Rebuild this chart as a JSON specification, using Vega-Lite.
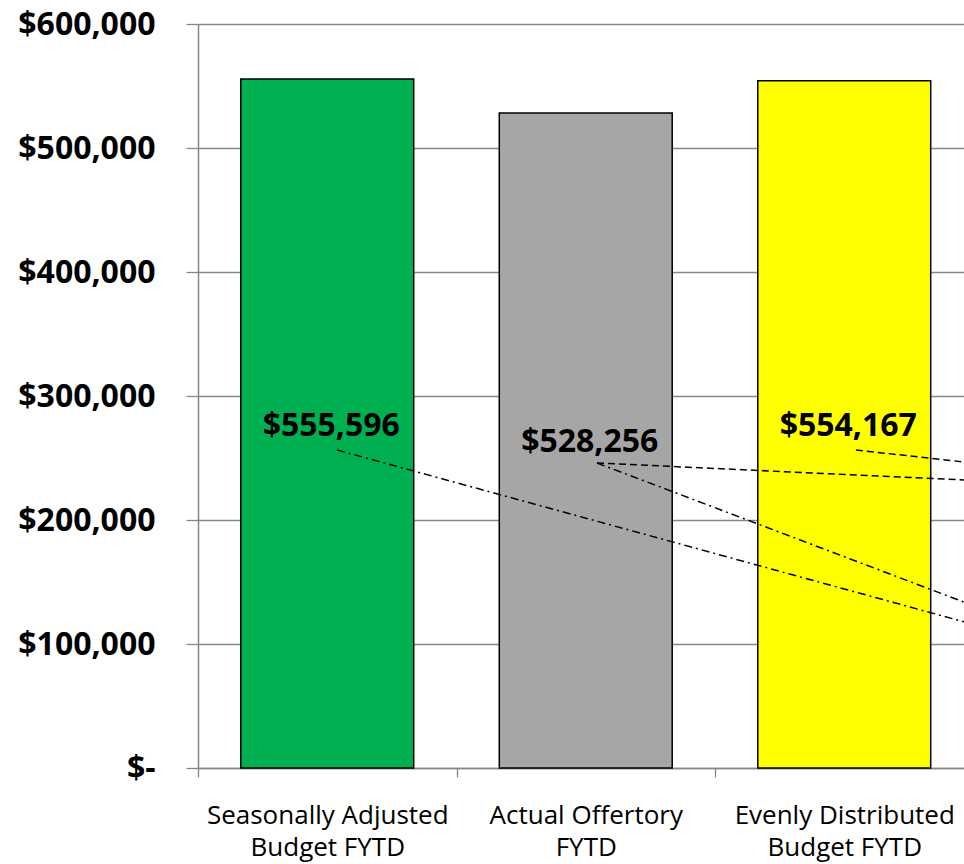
{
  "$schema": "https://vega.github.io/schema/vega-lite/v6.json",
  "autosize": {"type": "none"},
  "width": 766,
  "height": 744,
  "padding": {"left": 198, "top": 24, "right": 0, "bottom": 96},
  "background": "white",
  "config": {"view": {"stroke": null}, "font": "Open Sans"},
  "datasets": {
    "bars": [
      {"category": "Seasonally Adjusted Budget FYTD", "value": 555596, "label": "$555,596"},
      {"category": "Actual Offertory FYTD", "value": 528256, "label": "$528,256"},
      {"category": "Evenly Distributed Budget FYTD", "value": 554167, "label": "$554,167"}
    ],
    "leaders": [
      {"style": "dashdot", "x": 0.538, "y": 256452, "x2": 3.0, "y2": 115806},
      {"style": "dashdot", "x": 1.5435, "y": 245968, "x2": 3.0, "y2": 130887},
      {"style": "dashed", "x": 1.5435, "y": 245968, "x2": 3.0, "y2": 231935},
      {"style": "dashed", "x": 2.545, "y": 256452, "x2": 3.0, "y2": 245968}
    ]
  },
  "resolve": {"scale": {"x": "independent"}},
  "layer": [
    {
      "data": {"name": "bars"},
      "mark": {"type": "bar", "stroke": "black", "strokeWidth": 1.5},
      "encoding": {
        "x": {
          "field": "category", "type": "nominal", "sort": null,
          "scale": {"range": [0, 775.5], "paddingInner": 0.331, "paddingOuter": 0.1655},
          "axis": {
            "title": null, "orient": "bottom", "tickSize": 9, "tickOffset": -129.25, "labelOffset": 129.25,
            "tickColor": "#868686", "tickWidth": 1.3, "domainColor": "#868686", "domainWidth": 1.5,
            "labelAngle": 0, "labelFontSize": 26, "labelColor": "black", "labelFont": "Open Sans",
            "labelPadding": 25, "labelLineHeight": 32, "labelLimit": 500, "grid": false,
            "labelExpr": "datum.value == 'Seasonally Adjusted Budget FYTD' ? ['Seasonally Adjusted', 'Budget FYTD'] : datum.value == 'Actual Offertory FYTD' ? ['Actual Offertory', 'FYTD'] : ['Evenly Distributed', 'Budget FYTD']"
          }
        },
        "y": {
          "field": "value", "type": "quantitative",
          "scale": {"domain": [0, 600000], "nice": false, "zero": true},
          "axis": {
            "title": null, "values": [0, 100000, 200000, 300000, 400000, 500000, 600000],
            "grid": true, "gridColor": "#868686", "gridWidth": 1.3,
            "tickSize": 12, "tickColor": "#868686", "tickWidth": 1.3, "domainColor": "#868686", "domainWidth": 1.5,
            "labelFontSize": 32, "labelFontWeight": "bold", "labelColor": "black", "labelFont": "Open Sans",
            "labelPadding": 31,
            "labelExpr": "datum.value == 0 ? '$-' : '$' + format(datum.value, ',')"
          }
        },
        "color": {
          "field": "category", "type": "nominal", "legend": null,
          "scale": {
            "domain": ["Seasonally Adjusted Budget FYTD", "Actual Offertory FYTD", "Evenly Distributed Budget FYTD"],
            "range": ["#00B050", "#A6A6A6", "#FFFF00"]
          }
        }
      }
    },
    {
      "data": {"name": "bars"},
      "transform": [{"calculate": "datum.value / 2", "as": "mid"}],
      "mark": {"type": "text", "fontSize": 32, "fontWeight": "bold", "font": "Open Sans", "color": "black", "baseline": "middle", "align": "center", "dx": 4, "dy": 2},
      "encoding": {
        "x": {"field": "category", "type": "nominal", "sort": null, "scale": {"range": [0, 775.5], "paddingInner": 0.331, "paddingOuter": 0.1655}, "axis": null},
        "y": {"field": "mid", "type": "quantitative"},
        "text": {"field": "label"}
      }
    },
    {
      "data": {"name": "leaders"},
      "mark": {"type": "rule", "color": "black", "strokeWidth": 1.5, "clip": false},
      "encoding": {
        "x": {"field": "x", "type": "quantitative", "scale": {"domain": [0, 3], "range": [0, 775.5], "nice": false, "zero": false}, "axis": null},
        "x2": {"field": "x2"},
        "y": {"field": "y", "type": "quantitative"},
        "y2": {"field": "y2"},
        "strokeDash": {"field": "style", "type": "nominal", "legend": null, "scale": {"domain": ["dashdot", "dashed"], "range": [[8, 4, 2, 4], [7, 4]]}}
      }
    }
  ]
}
